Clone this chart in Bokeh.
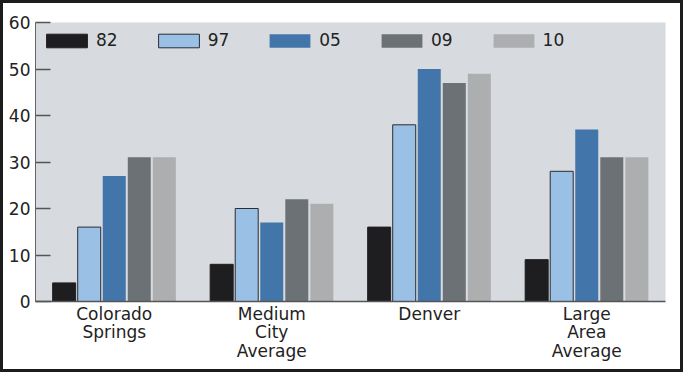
from bokeh.plotting import figure
from bokeh.models import FactorRange, Range1d, FixedTicker, Legend, LegendItem
from bokeh.transform import dodge
from bokeh.embed import file_html
from bokeh.resources import INLINE

categories = ["Colorado\nSprings", "Medium\nCity\nAverage", "Denver", "Large\nArea\nAverage"]
years = ["82", "97", "05", "09", "10"]
v82 = [4, 8, 16, 9]
v97 = [16, 20, 38, 28]
v05 = [27, 17, 50, 37]
v09 = [31, 22, 47, 31]
v10 = [31, 21, 49, 31]
y_ticks = [0, 10, 20, 30, 40, 50, 60]

series = [v82, v97, v05, v09, v10]
colors = ["#1e1e20", "#9ac0e6", "#4276aa", "#6c7176", "#adaeb0"]
lines = ["#1e1e20", "#2a2d33", None, None, None]
offsets = [-0.318, -0.159, 0.0, 0.159, 0.318]

FONT = "DejaVu Sans"

p = figure(x_range=FactorRange(factors=categories, range_padding=0),
           y_range=Range1d(0, 60),
           width=683, height=372, output_backend="svg", toolbar_location=None,
           min_border_left=35, min_border_right=18, min_border_top=22, min_border_bottom=71)
p.styles = {"background-color": "white", "outline": "3px solid #1c1c1c", "outline-offset": "-3px"}
p.background_fill_color = "#d7dbdf"
p.border_fill_color = None
p.outline_line_color = None
p.xgrid.grid_line_color = None
p.ygrid.grid_line_color = None

data = {"cat": categories}
for y, s in zip(years, series):
    data[y] = s

items = []
for y, c, lc, off in zip(years, colors, lines, offsets):
    r = p.vbar(x=dodge("cat", off, range=p.x_range), top=y, width=0.146, source=data,
               fill_color=c, line_color=lc, line_width=1)
    items.append(LegendItem(label=y, renderers=[r]))

legend = Legend(items=items, orientation="horizontal", location="top_left",
                glyph_width=51, glyph_height=17, label_standoff=4, spacing=35,
                label_height=24,
                padding=10, margin=6, background_fill_alpha=0, border_line_color=None,
                label_text_font=FONT, label_text_font_size="17px", label_text_color="#222222")
p.add_layout(legend, "center")

p.yaxis.ticker = FixedTicker(ticks=y_ticks)
p.yaxis.major_tick_in = 15
p.yaxis.major_tick_out = 0
p.yaxis.minor_tick_line_color = None
p.yaxis.major_tick_line_color = "#555555"
p.yaxis.major_tick_line_width = 1.5
p.yaxis.axis_line_color = "#666666"
p.yaxis.major_label_standoff = 5
p.yaxis.major_label_text_font = FONT
p.yaxis.major_label_text_font_size = "17px"
p.yaxis.major_label_text_color = "#222222"

p.xaxis.major_tick_line_color = None
p.xaxis.minor_tick_line_color = None
p.xaxis.axis_line_color = "#555555"
p.xaxis.axis_line_width = 1.5
p.xaxis.major_label_standoff = -4
p.xaxis.major_label_text_font = FONT
p.xaxis.major_label_text_font_size = "17px"
p.xaxis.major_label_text_color = "#222222"
p.xaxis.major_label_text_line_height = 0.93

open("out.html", "w").write(file_html(p, INLINE))
